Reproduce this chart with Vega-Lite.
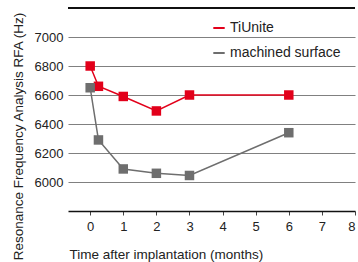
{
  "$schema": "https://vega.github.io/schema/vega-lite/v6.json",
  "autosize": "none",
  "width": 287,
  "height": 203,
  "padding": {"left": 68, "top": 8, "right": 3, "bottom": 51},
  "config": {
    "font": "Liberation Sans",
    "view": {"stroke": null},
    "axis": {"labelFont": "Liberation Sans", "titleFont": "Liberation Sans", "labelFontSize": 13, "titleFontSize": 13.5, "labelColor": "#222", "titleColor": "#222", "titleFontWeight": "normal"}
  },
  "data": {
    "values": [
      {"t": 0, "rfa": 6800, "surface": "TiUnite"},
      {"t": 0.25, "rfa": 6660, "surface": "TiUnite"},
      {"t": 1, "rfa": 6590, "surface": "TiUnite"},
      {"t": 2, "rfa": 6490, "surface": "TiUnite"},
      {"t": 3, "rfa": 6600, "surface": "TiUnite"},
      {"t": 6, "rfa": 6600, "surface": "TiUnite"},
      {"t": 0, "rfa": 6650, "surface": "machined surface"},
      {"t": 0.25, "rfa": 6290, "surface": "machined surface"},
      {"t": 1, "rfa": 6090, "surface": "machined surface"},
      {"t": 2, "rfa": 6060, "surface": "machined surface"},
      {"t": 3, "rfa": 6045, "surface": "machined surface"},
      {"t": 6, "rfa": 6340, "surface": "machined surface"}
    ]
  },
  "layer": [
    {
      "mark": {"type": "line", "strokeWidth": 1.5, "point": {"shape": "square", "size": 90, "filled": true, "opacity": 1}},
      "encoding": {
        "x": {
          "field": "t", "type": "quantitative",
          "scale": {"domain": [-0.67, 8], "nice": false, "zero": false},
          "axis": {
            "values": [0, 1, 2, 3, 4, 5, 6, 7, 8], "grid": false,
            "domainColor": "#111", "domainWidth": 1.5, "tickColor": "#444", "tickSize": 4,
            "labelPadding": 5,
            "title": "Time after implantation (months)", "titleAnchor": "start", "titleAlign": "left", "titleX": 1, "titleY": 43, "titleBaseline": "middle"
          }
        },
        "y": {
          "field": "rfa", "type": "quantitative",
          "scale": {"domain": [5800, 7200], "nice": false, "zero": false},
          "axis": {
            "values": [6000, 6200, 6400, 6600, 6800, 7000], "format": "d", "grid": true, "domain": false, "ticks": false, "labelPadding": 5, "gridColor": "#808080", "gridWidth": 1.2,
            "title": "Resonance Frequency Analysis RFA (Hz)", "titleAngle": -90, "titleX": -50, "titleY": 128, "titleAlign": "center", "titleBaseline": "middle"
          }
        },
        "color": {
          "field": "surface", "type": "nominal",
          "scale": {"domain": ["TiUnite", "machined surface"], "range": ["#e2001a", "#6e6e6e"]},
          "legend": {
            "title": null, "orient": "none", "legendX": 144, "legendY": 13, "padding": 0,
            "symbolType": "stroke", "symbolSize": 130, "symbolStrokeWidth": 2, "labelOffset": 4,
            "labelFontSize": 14, "labelFont": "Liberation Sans", "labelColor": "#222", "rowPadding": 11
          }
        }
      }
    },
    {
      "mark": {"type": "rule", "color": "#111", "strokeWidth": 1.5},
      "encoding": {"y": {"datum": 7200, "type": "quantitative"}}
    }
  ]
}
